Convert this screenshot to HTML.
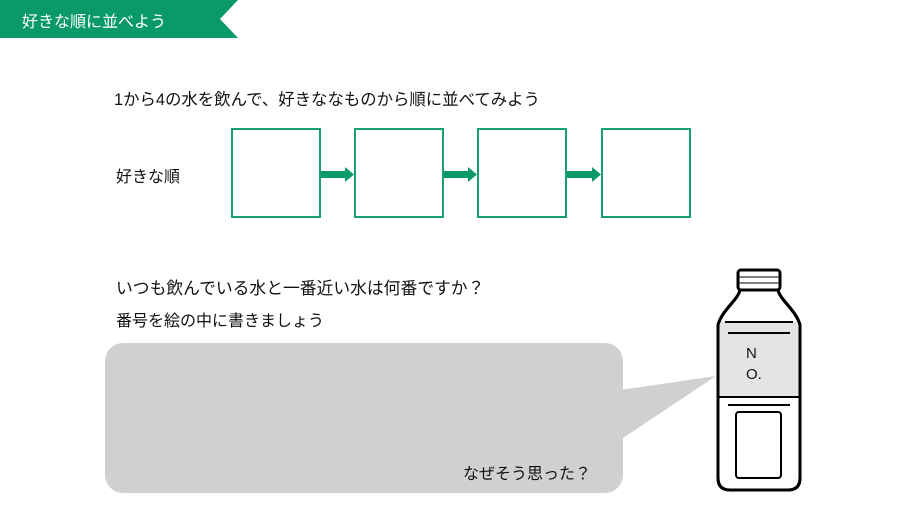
<!DOCTYPE html>
<html><head><meta charset="utf-8"><style>
body{margin:0;width:910px;height:512px;background:#fff;position:relative;overflow:hidden;font-family:"Liberation Sans","Noto Sans CJK JP",sans-serif;color:#111}
.t{position:absolute;font-size:16px;white-space:nowrap}
.box{position:absolute;top:128px;width:90px;height:90px;border:2px solid #17a06f;box-sizing:border-box}
</style></head><body>
<svg width="910" height="512" style="position:absolute;left:0;top:0">
<polygon points="0,0 238,0 220,19 238,38 0,38" fill="#0a9a6a"/>
<g fill="#0a9a6a">
<rect x="320" y="171" width="26" height="7"/><polygon points="345,167 354,174.5 345,182"/>
<rect x="443" y="171" width="26" height="7"/><polygon points="468,167 477,174.5 468,182"/>
<rect x="566" y="171" width="27" height="7"/><polygon points="592,167 601,174.5 592,182"/>
</g>
<polygon points="620,390 716,376 620,440" fill="#d0d0d0"/>
<rect x="105" y="343" width="518" height="150" rx="18" fill="#d0d0d0"/>
<g stroke="#000" stroke-width="3" fill="#fff">
<path d="M740,290 C738,300 722,310 718,325 L718,478 Q718,490 730,490 L788,490 Q800,490 800,478 L800,325 C796,310 780,300 778,290 Z"/>
<rect x="738" y="270" width="42" height="20" rx="3"/>
</g>
<path d="M719,322 L799,322 L799,397 L719,397 Z" fill="#e4e4e4"/>
<g stroke="#000" stroke-width="2" fill="none">
<line x1="725" y1="322" x2="793" y2="322"/>
<line x1="728" y1="333" x2="790" y2="333"/>
<line x1="728" y1="405" x2="790" y2="405"/>
<line x1="718" y1="397" x2="800" y2="397"/>
<rect x="736" y="412" width="45" height="66" rx="3"/>
<line x1="738" y1="277" x2="780" y2="277" stroke-width="1"/>
<line x1="738" y1="283" x2="780" y2="283" stroke-width="1"/>
</g>
<path d="M740,290 C738,300 722,310 718,325 L718,478 Q718,490 730,490 L788,490 Q800,490 800,478 L800,325 C796,310 780,300 778,290 Z" fill="none" stroke="#000" stroke-width="3"/>
</svg>
<div class="t" style="left:22px;top:8px;color:#fff;font-size:16px">好きな順に並べよう</div>
<div class="t" style="left:114px;top:86px;font-size:16.4px">1から4の水を飲んで、好きななものから順に並べてみよう</div>
<div class="t" style="left:116px;top:163px">好きな順</div>
<div class="box" style="left:231px"></div>
<div class="box" style="left:354px"></div>
<div class="box" style="left:477px"></div>
<div class="box" style="left:601px"></div>
<div class="t" style="left:116px;top:275px;font-size:16.8px">いつも飲んでいる水と一番近い水は何番ですか？</div>
<div class="t" style="left:116px;top:307px">番号を絵の中に書きましょう</div>
<div class="t" style="left:463px;top:460px">なぜそう思った？</div>
<div class="t" style="left:746px;top:345px;font-size:15px">N</div>
<div class="t" style="left:746px;top:366px;font-size:15px">O.</div>
</body></html>
